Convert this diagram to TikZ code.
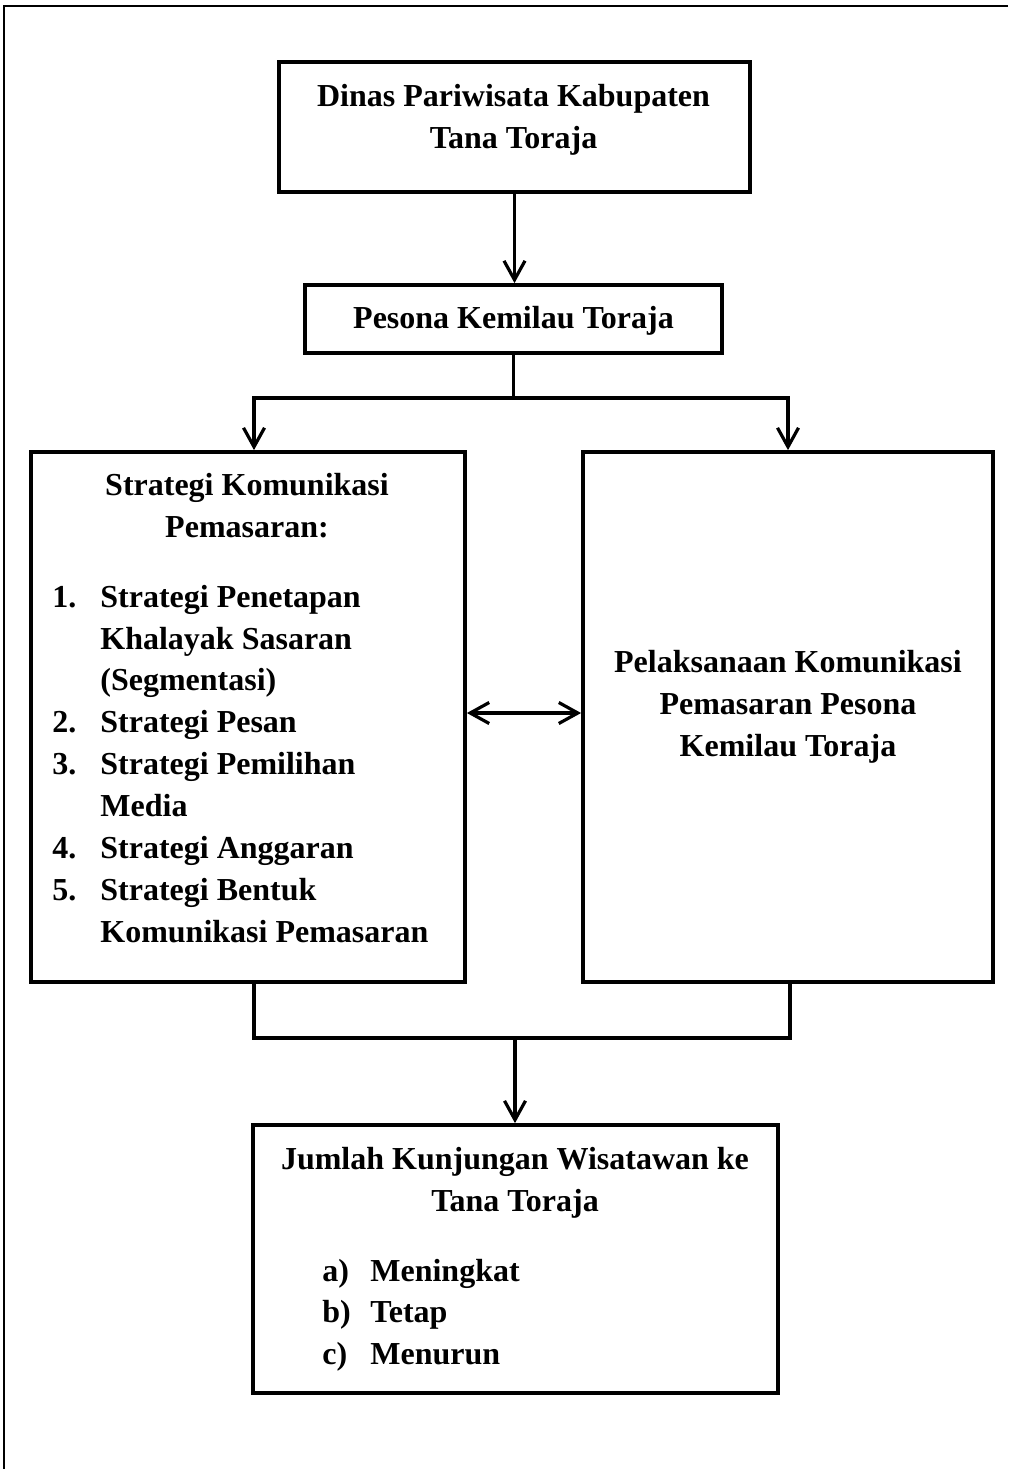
\documentclass[tikz,border=0pt]{standalone}
\usepackage{fontspec}
\setmainfont{Liberation Serif}
\usetikzlibrary{arrows.meta}

\begin{document}
\begin{tikzpicture}[x=0.5pt,y=-0.5pt,
  font=\fontsize{16}{21}\selectfont\bfseries,
  box/.style={draw,line width=1.9pt,inner sep=0pt},
  line/.style={anchor=base,inner sep=0pt},
  item/.style={anchor=base west,inner sep=0pt},
  link/.style={line width=1.6pt},
  arr/.style={link,-{Straight Barb[length=9.5pt,width=10.5pt]}}]
\useasboundingbox (0,0) rectangle (1008,1469);
\draw [line width=0.8pt] (1008,6) -- (4,6) -- (4,1469);
% boxes
\node [box,minimum width=235.5pt,minimum height=65pt] (dinas) at (514.5,127) {};
\node [box,minimum width=208.5pt,minimum height=34pt] (pesona) at (513.5,319) {};
\node [box,minimum width=217pt,minimum height=265pt] (strategi) at (248,717) {};
\node [box,minimum width=205pt,minimum height=265pt] (pelaksanaan) at (788,717) {};
\node [box,minimum width=262.5pt,minimum height=134pt] (jumlah) at (515.5,1259) {};
% texts
\node [line] (dinas1) at (513.5,106) {Dinas Pariwisata Kabupaten};
\node [line] (dinas2) at (513.5,148) {Tana Toraja};
\node [line] (pesona1) at (513.5,328) {Pesona Kemilau Toraja};
\node [line] (strategi1) at (247,495) {Strategi Komunikasi};
\node [line] (strategi2) at (247,537) {Pemasaran:};
\foreach \yy/\num/\txt [count=\i] in {607/1./Strategi Penetapan,649//Khalayak Sasaran,
    690//(Segmentasi),732/2./Strategi Pesan,774/3./Strategi Pemilihan,816//Media,
    858/4./Strategi Anggaran,900/5./Strategi Bentuk,942//Komunikasi Pemasaran}
  \node [item] (sitem\i) at (100,\yy) {\llap{\makebox[24pt][l]{\num}}\txt};
\node [line] (pelaksanaan1) at (788,672) {Pelaksanaan Komunikasi};
\node [line] (pelaksanaan2) at (788,714) {Pemasaran Pesona};
\node [line] (pelaksanaan3) at (788,756) {Kemilau Toraja};
\node [line] (jumlah1) at (515,1169) {Jumlah Kunjungan Wisatawan ke};
\node [line] (jumlah2) at (515,1211) {Tana Toraja};
\foreach \yy/\num/\txt [count=\i] in {1281/a)/Meningkat,1322/b)/Tetap,1364/c)/Menurun}
  \node [item] (jitem\i) at (370,\yy) {\llap{\makebox[24pt][l]{\num}}\txt};
% connectors
\coordinate (fork) at (515,398);
\coordinate (join) at (515,1038);
\draw [arr] (dinas.south) -- (dinas.south |- pesona.north);
\draw [link] (pesona.south) -- (pesona.south |- fork);
\draw [arr] (fork) -| ([xshift=3pt]strategi.north);
\draw [arr] (fork) -| (pelaksanaan.north);
\draw [link,{Straight Barb[length=9.5pt,width=10.5pt]}-{Straight Barb[length=9.5pt,width=10.5pt]}]
  ([yshift=2pt]strategi.east) -- ([yshift=2pt]pelaksanaan.west);
\draw [link] ([xshift=3pt]strategi.south) |- (join) -| ([xshift=1pt]pelaksanaan.south);
\draw [arr] (join) -- (join |- jumlah.north);
\end{tikzpicture}
\end{document}
